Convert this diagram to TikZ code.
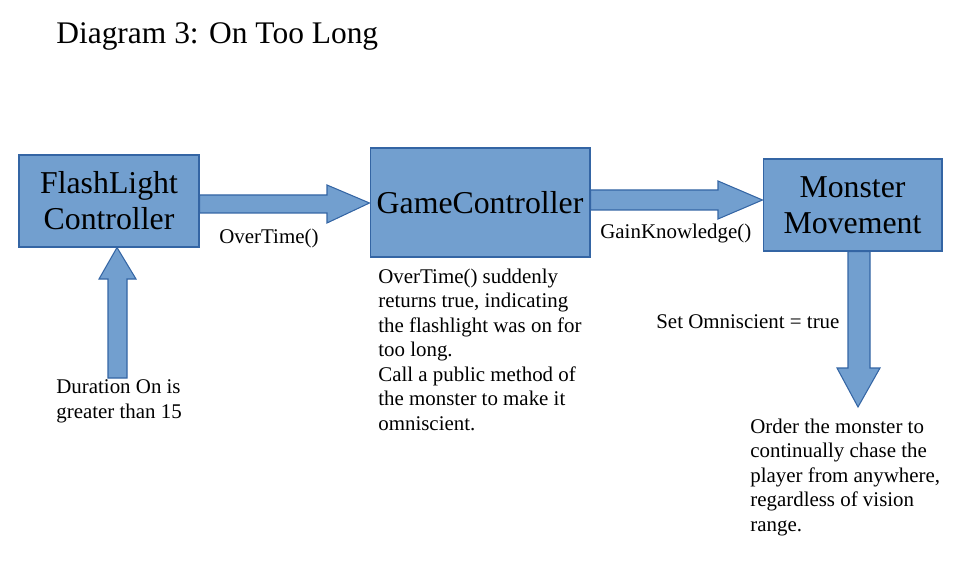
\documentclass[tikz,border=0pt]{standalone}
\usepackage{fontspec}
\setmainfont{Liberation Serif}
\usetikzlibrary{arrows}
\pgfdeclarelayer{background}
\pgfsetlayers{background,main}
\definecolor{boxfill}{HTML}{729FCF}
\definecolor{boxline}{HTML}{3465A4}
\tikzset{
  box/.style={draw=boxline, fill=boxfill, line width=0.6pt, align=center, inner sep=0pt,
    font=\fontsize{18.1}{20.6}\selectfont},
  blockarrow/.style={draw=boxline, fill=boxfill, line width=0.6pt},
  note/.style={anchor=base west, inner sep=0pt, align=left,
    font=\fontsize{11.9}{13.9}\selectfont}
}
\begin{document}
\begin{tikzpicture}[x=0.02cm,y=-0.02cm]
\useasboundingbox (0,0) rectangle (980,584);

\node[anchor=base west, inner sep=0pt, font=\fontsize{17.9}{21}\selectfont] (title) at (56,44) {Diagram 3: On Too Long};

\node[box, minimum width=3.6cm, minimum height=1.84cm] (FL) at (109,201) {FlashLight\\Controller};
\node[box, minimum width=4.4cm, minimum height=2.18cm] (GC) at (480,202.5) {GameController};
\node[box, minimum width=3.58cm, minimum height=1.84cm] (MM) at (852.5,205) {Monster\\Movement};

\begin{pgfonlayer}{background}
\draw[blockarrow] (FL.east |- 0,195) -- (327,195) -- (327,185) -- (GC.west |- 0,203)
  -- (327,223) -- (327,213) -- (FL.east |- 0,213) -- cycle;
\draw[blockarrow] (GC.east |- 0,190) -- (718,190) -- (718,181) -- (MM.west |- 0,200)
  -- (718,219) -- (718,210) -- (GC.east |- 0,210) -- cycle;
\draw[blockarrow] (108,378) -- (108,279) -- (99,279) -- (FL.south -| 117,0)
  -- (136,279) -- (127,279) -- (127,378) -- cycle;
\draw[blockarrow] (MM.south -| 848,0) -- (848,368) -- (837,368) -- (858,407)
  -- (880,368) -- (870,368) -- (MM.south -| 870,0) -- cycle;
\end{pgfonlayer}

\node[note] (overtime) at (219,243) {OverTime()};
\node[note] (gain) at (600,238) {GainKnowledge()};
\node[note] (setomni) at (656,328) {Set Omniscient = true};
\node[note] (duration) at (56,418) {Duration On is\\greater than 15};
\node[note] (gcnote) at (378,430) {OverTime() suddenly\\returns true, indicating\\the flashlight was on for\\too long.\\Call a public method of\\the monster to make it\\omniscient.};
\node[note] (mmnote) at (750,531) {Order the monster to\\continually chase the\\player from anywhere,\\regardless of vision\\range.};
\end{tikzpicture}
\end{document}
